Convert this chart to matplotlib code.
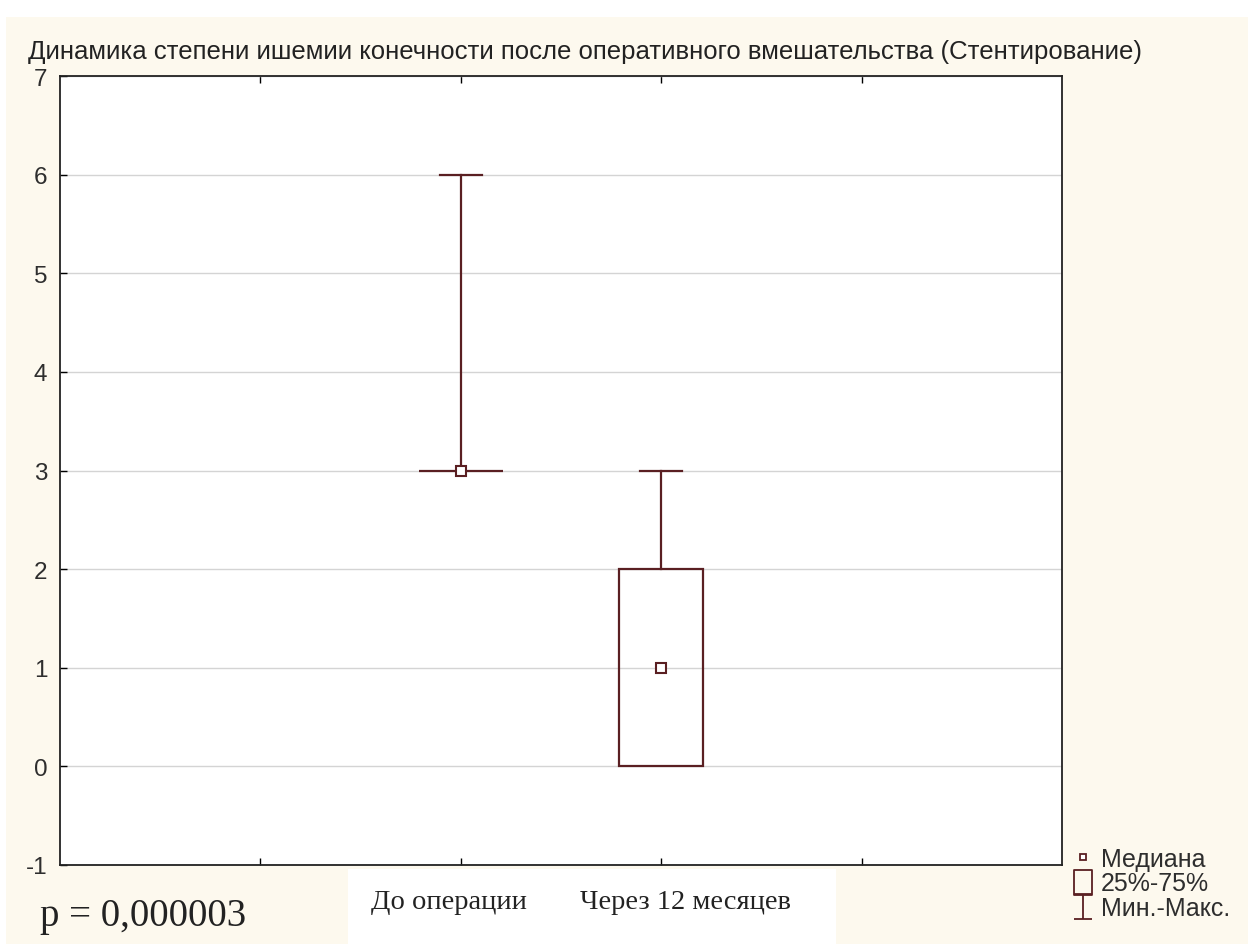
import matplotlib.pyplot as plt
from matplotlib.lines import Line2D
from matplotlib.patches import Rectangle
from matplotlib.path import Path

# Ischemia grade before stenting and 12 months after
groups = ['До операции', 'Через 12 месяцев']
positions = [2, 3]
medians = [3, 1]
q1 = [3, 0]
q3 = [3, 2]
mins = [3, 0]
maxs = [6, 3]
p_value = 'p = 0,000003'

title = 'Динамика степени ишемии конечности после оперативного вмешательства (Стентирование)'
legend_labels = ['Медиана', '25%-75%', 'Мин.-Макс.']

box_color = '#5a1f22'
text_color = '#2e2e2e'
cream = '#fdf9ee'
box_w = 0.42
cap_w = 0.21

plt.rcParams['axes.unicode_minus'] = False
plt.rcParams['font.family'] = ['Liberation Sans', 'DejaVu Sans']

fig = plt.figure(figsize=(12.48, 9.45), dpi=100, facecolor='white')

# cream panel behind everything, white strip below the category labels
fig.patches.append(Rectangle((6 / 1248, 0), 1, 1 - 18 / 945, transform=fig.transFigure,
                             facecolor=cream, edgecolor='none', zorder=-10))
fig.patches.append(Rectangle((348 / 1248, 0), (836 - 348) / 1248, 75 / 945,
                             transform=fig.transFigure, facecolor='white',
                             edgecolor='none', zorder=-9))

ax = fig.add_axes([60 / 1248, 79 / 945, 1002 / 1248, 789 / 945])
ax.set_facecolor('white')
ax.set_xlim(0, 5)
ax.set_ylim(-1, 7)
ax.set_yticks(range(-1, 8))
ax.set_xticks([1, 2, 3, 4])
ax.set_xticklabels([])
ax.tick_params(axis='x', direction='in', length=5, top=True, width=1)
ax.tick_params(axis='y', direction='in', length=5, width=1, labelsize=17.5,
               labelcolor=text_color, pad=9)
for sp in ax.spines.values():
    sp.set_linewidth(1.3)
    sp.set_color('#222222')
ax.grid(axis='y', color='#d4d4d4', linewidth=1)
ax.set_axisbelow(True)

for x, lo, hi, a, b, m in zip(positions, mins, maxs, q1, q3, medians):
    # whiskers and caps
    if hi > b:
        ax.plot([x, x], [b, hi], color=box_color, lw=1.6, zorder=3)
        ax.plot([x - cap_w / 2, x + cap_w / 2], [hi, hi], color=box_color, lw=1.6, zorder=3)
    if lo < a:
        ax.plot([x, x], [lo, a], color=box_color, lw=1.6, zorder=3)
        ax.plot([x - cap_w / 2, x + cap_w / 2], [lo, lo], color=box_color, lw=1.6, zorder=3)
    # interquartile box
    ax.add_patch(Rectangle((x - box_w / 2, a), box_w, b - a, facecolor='none',
                           edgecolor=box_color, lw=1.6, zorder=3))
    ax.plot([x], [m], marker='s', ms=7, mfc='white', mec=box_color, mew=1.5, zorder=4)

fig.text(28 / 1248, 1 - 52 / 945, title, fontsize=18.5, color='#222222',
         va='center', ha='left')

# category labels
fig.text(449 / 1248, 1 - 903 / 945, groups[0], fontsize=20.5, family='Liberation Serif',
         color='#222222', ha='center', va='center')
fig.text(685 / 1248, 1 - 903 / 945, groups[1], fontsize=20.5, family='Liberation Serif',
         color='#222222', ha='center', va='center')

fig.text(40 / 1248, 1 - 917 / 945, p_value, fontsize=28, family='Liberation Serif',
         color='#222222', ha='left', va='center')

ibeam = Path([(-0.36, 0.5), (0.36, 0.5), (0, 0.5), (0, -0.5), (-0.36, -0.5), (0.36, -0.5)],
             [Path.MOVETO, Path.LINETO, Path.MOVETO, Path.LINETO, Path.MOVETO, Path.LINETO])
tall_box = Path([(-0.36, -0.5), (0.36, -0.5), (0.36, 0.5), (-0.36, 0.5), (-0.36, -0.5)],
                [Path.MOVETO, Path.LINETO, Path.LINETO, Path.LINETO, Path.CLOSEPOLY])
handles = [
    Line2D([], [], ls='none', marker='s', ms=5, mfc='white', mec=box_color, mew=1.3),
    Line2D([], [], ls='none', marker=tall_box, ms=18, mfc='none', mec=box_color, mew=1.3),
    Line2D([], [], ls='none', marker=ibeam, ms=18, mec=box_color, mew=1.3),
]
fig.legend(handles, legend_labels, loc='upper left',
           bbox_to_anchor=(1070 / 1248, 1 - 848 / 945), frameon=False,
           prop={'size': 18}, labelcolor=text_color, borderaxespad=0,
           handlelength=1.0, handletextpad=0.25, labelspacing=0.02, borderpad=0)

fig.savefig('out.png', dpi=100, facecolor=fig.get_facecolor())
